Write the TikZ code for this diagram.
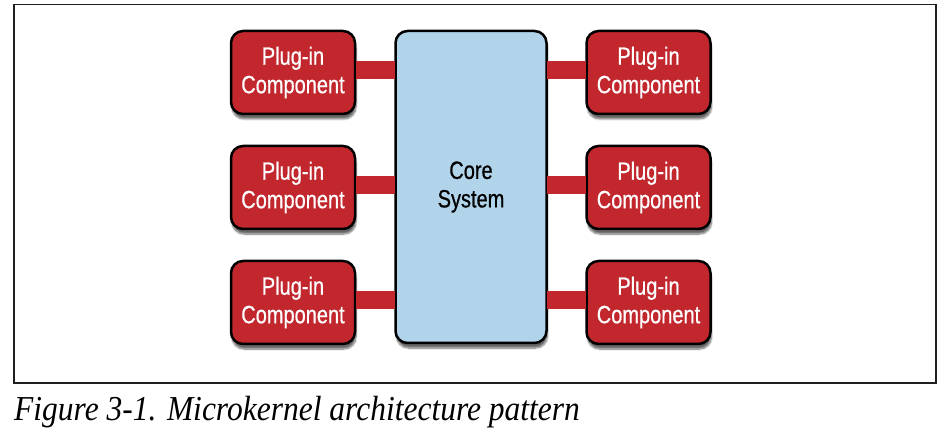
\documentclass[tikz,border=0pt]{standalone}
\usepackage{fontspec}
\usepackage{tikz}
\usetikzlibrary{shadows, shadows.blur, positioning}
\newfontfamily\boxfont{Liberation Sans}[FakeStretch=0.8, FakeBold=0.6]
\newfontfamily\capfont{Liberation Serif}[FakeStretch=0.9]
\definecolor{plugred}{RGB}{193,39,45}
\definecolor{coreblue}{RGB}{178,212,234}
\tikzset{
    box/.style = {draw = black, line width = 2.5pt, rounded corners = 12pt,
        align = center, font = \boxfont\fontsize{25}{28.5}\selectfont,
        blur shadow = {shadow xshift = 1pt, shadow yshift = -5pt, shadow opacity = 60, shadow blur steps = 8}},
    plugin/.style = {box, fill = plugred, text = white, minimum width = 124pt, minimum height = 83pt},
    core/.style = {box, fill = coreblue, text = black, minimum width = 151pt, minimum height = 312pt},
    bus/.style = {draw = plugred, line width = 18pt, shorten < = -0.5pt, shorten > = -0.5pt},
}

\begin{document}
\begin{tikzpicture}[x = 1pt, y = -1pt]
            \useasboundingbox (0, 0) rectangle (948, 446);
            \draw[line width = 1.2pt, color = black!88] (14, 4.5) rectangle (936, 383);

            \node[core] (core) at (471, 187) {Core\\System};

            \node[plugin] (l1) at (293, 72.5) {Plug-in\\Component};
            \node[plugin] (l2) at (293, 187.5) {Plug-in\\Component};
            \node[plugin] (l3) at (293, 302.5) {Plug-in\\Component};

            \node[plugin] (r1) at (648.5, 72.5) {Plug-in\\Component};
            \node[plugin] (r2) at (648.5, 187.5) {Plug-in\\Component};
            \node[plugin] (r3) at (648.5, 302.5) {Plug-in\\Component};

            \foreach \row in {1, 2, 3} {
                \draw[bus] ([yshift = 2pt]l\row.east) -- ([yshift = 2pt]core.west |- l\row.east);
                \draw[bus] ([yshift = 2pt]r\row.west) -- ([yshift = 2pt]core.east |- r\row.west);
            }

            \node[anchor = base west, inner sep = 0pt, font = \capfont\itshape\fontsize{35}{38}\selectfont] (caption) at (14, 420) {Figure 3-1. Microkernel architecture pattern};
        \end{tikzpicture}
\end{document}
